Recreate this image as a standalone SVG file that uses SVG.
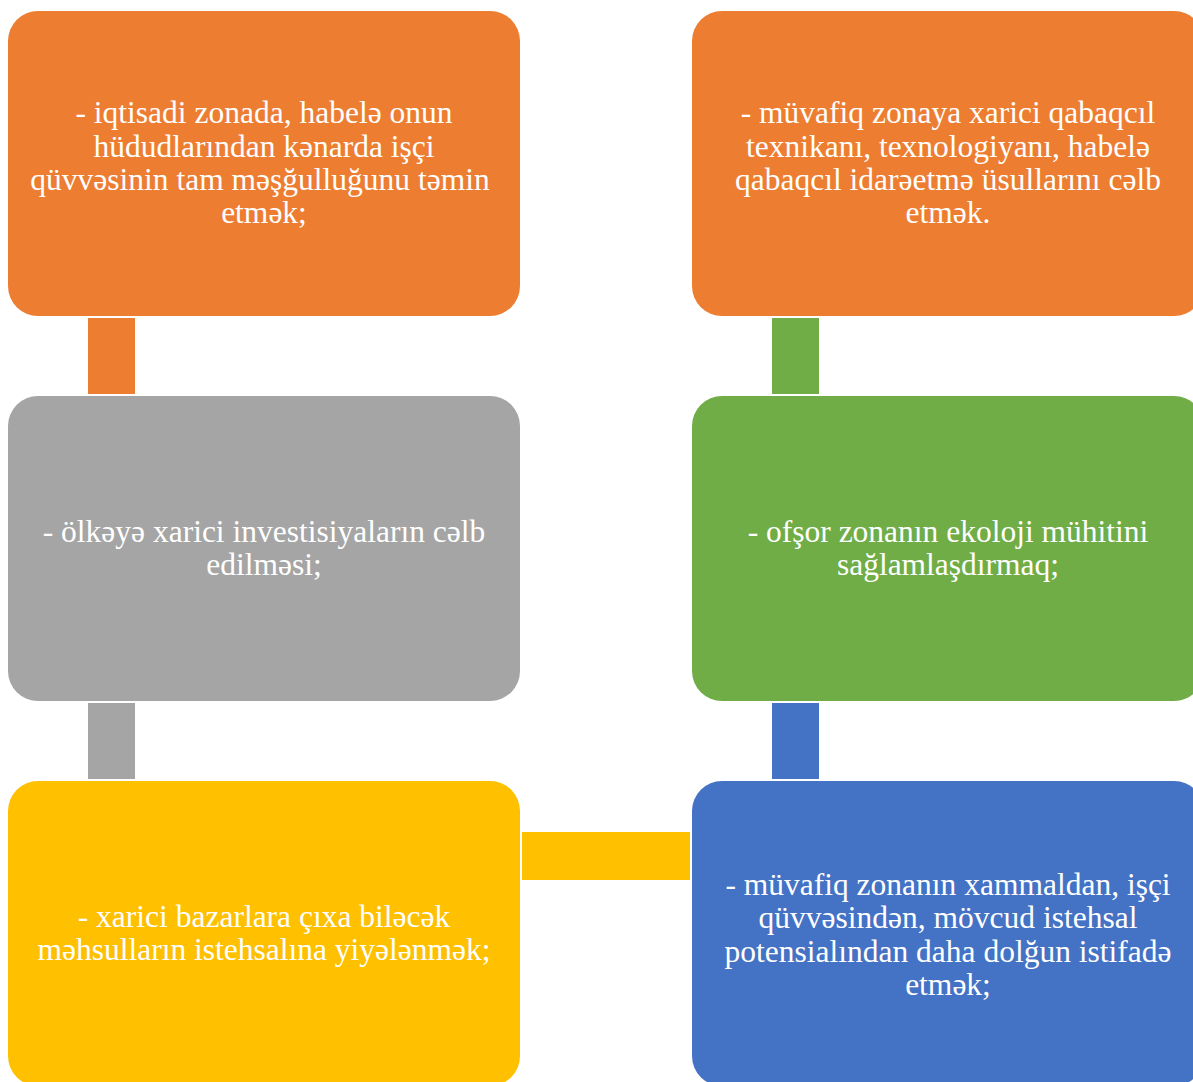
<svg xmlns="http://www.w3.org/2000/svg" width="1193" height="1082" viewBox="0 0 1193 1082">
<style>
.box{stroke:none}
.t{font-family:"Liberation Serif","Times New Roman",serif;font-size:31.5px;fill:#ffffff;text-anchor:middle}
</style>
<rect width="1193" height="1082" fill="#ffffff"/>
<g id="connectors">
<rect x="88" y="318" width="47" height="76" fill="#ED7D31"/>
<rect x="88" y="703" width="47" height="76" fill="#A5A5A5"/>
<rect x="522" y="832" width="168" height="48" fill="#FFC000"/>
<rect x="772" y="318" width="47" height="76" fill="#70AD47"/>
<rect x="772" y="703" width="47" height="76" fill="#4472C4"/>
</g>
<g id="node1">
<rect class="box" x="8" y="11" width="512" height="305" rx="30" fill="#ED7D31"/>
<text class="t"><tspan x="264" y="123">- iqtisadi zonada, habelə onun</tspan><tspan x="264" y="156.5">hüdudlarından kənarda işçi</tspan><tspan x="260" y="190">qüvvəsinin tam məşğulluğunu təmin</tspan><tspan x="264" y="223">etmək;</tspan></text>
</g>
<g id="node2">
<rect class="box" x="8" y="396" width="512" height="305" rx="30" fill="#A5A5A5"/>
<text class="t"><tspan x="264" y="542">- ölkəyə xarici investisiyaların cəlb</tspan><tspan x="264" y="575">edilməsi;</tspan></text>
</g>
<g id="node3">
<rect class="box" x="8" y="781" width="512" height="305" rx="30" fill="#FFC000"/>
<text class="t"><tspan x="264" y="927">- xarici bazarlara çıxa biləcək</tspan><tspan x="264" y="960">məhsulların istehsalına yiyələnmək;</tspan></text>
</g>
<g id="node4">
<rect class="box" x="692" y="781" width="512" height="305" rx="30" fill="#4472C4"/>
<text class="t"><tspan x="948" y="895">- müvafiq zonanın xammaldan, işçi</tspan><tspan x="948" y="928">qüvvəsindən, mövcud istehsal</tspan><tspan x="948" y="962">potensialından daha dolğun istifadə</tspan><tspan x="948" y="995">etmək;</tspan></text>
</g>
<g id="node5">
<rect class="box" x="692" y="396" width="512" height="305" rx="30" fill="#70AD47"/>
<text class="t"><tspan x="948" y="542">- ofşor zonanın ekoloji mühitini</tspan><tspan x="948" y="575">sağlamlaşdırmaq;</tspan></text>
</g>
<g id="node6">
<rect class="box" x="692" y="11" width="512" height="305" rx="30" fill="#ED7D31"/>
<text class="t"><tspan x="948" y="123">- müvafiq zonaya xarici qabaqcıl</tspan><tspan x="948" y="156.5">texnikanı, texnologiyanı, habelə</tspan><tspan x="948" y="190">qabaqcıl idarəetmə üsullarını cəlb</tspan><tspan x="948" y="223">etmək.</tspan></text>
</g>
</svg>
